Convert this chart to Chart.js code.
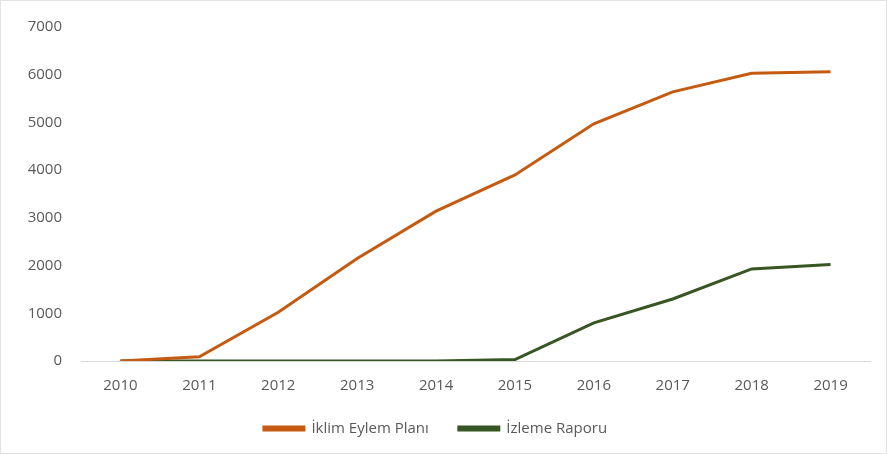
<!DOCTYPE html>
<html>
<head>
<meta charset="utf-8">
<script src="https://cdn.jsdelivr.net/npm/chart.js@4.4.1/dist/chart.umd.min.js"></script>
<style>
    html, body { margin: 0; padding: 0; background: #fff; }
    #wrap { position: relative; width: 885px; height: 452px; border: 1px solid #e3e3e3; }
</style>
</head>
<body>
<div id="wrap"><canvas id="lineChart"></canvas></div>
<script>
    const years = ['2010', '2011', '2012', '2013', '2014', '2015', '2016', '2017', '2018', '2019'];
    const iklimEylemPlani = [0, 90, 1020, 2150, 3140, 3900, 4970, 5640, 6030, 6060];
    const izlemeRaporu = [0, 0, 0, 0, 0, 30, 800, 1300, 1930, 2020];
    const yTicks = [0, 1000, 2000, 3000, 4000, 5000, 6000, 7000];

    const grey = '#595959';
    const fontFamily = "'Open Sans', 'Liberation Sans', sans-serif";

    let lineChart = new Chart(document.getElementById('lineChart'), {
        type: 'line',
        data: {
            labels: years,
            datasets: [
                {
                    label: 'İklim Eylem Planı',
                    data: iklimEylemPlani,
                    borderColor: '#c55a11',
                    backgroundColor: '#c55a11',
                    borderWidth: 3,
                    pointRadius: 0,
                    tension: 0
                },
                {
                    label: 'İzleme Raporu',
                    data: izlemeRaporu,
                    borderColor: '#375623',
                    backgroundColor: '#375623',
                    borderWidth: 3,
                    pointRadius: 0,
                    tension: 0
                }]
        },
        options: {
            responsive: true,
            maintainAspectRatio: false,
            animation: false,
            layout: { padding: { left: 0, right: 16, top: 26, bottom: 7 } },
            scales: {
                x: {
                    offset: true,
                    grid: { display: false },
                    border: { display: true, color: '#d9d9d9', width: 1 },
                    ticks: { color: grey, padding: 8, font: { family: fontFamily, size: 15 } },
                    afterFit: function (scale) { scale.height = 30; }
                },
                y: {
                    min: 0,
                    max: 7000,
                    afterBuildTicks: function (scale) { scale.ticks = yTicks.map(v => ({ value: v })); },
                    grid: { display: false },
                    border: { display: false },
                    ticks: {
                        color: grey,
                        padding: 11,
                        font: { family: fontFamily, size: 15 },
                        callback: function (value) { return String(value); }
                    },
                    afterFit: function (scale) { scale.width = 80; }
                }
            },
            plugins: {
                legend: {
                    position: 'bottom',
                    labels: {
                        color: grey,
                        boxWidth: 40,
                        boxHeight: 3,
                        padding: 30,
                        font: { family: fontFamily, size: 15 }
                    }
                },
                tooltip: { enabled: false }
            }
        }
    });
</script>
</body>
</html>
